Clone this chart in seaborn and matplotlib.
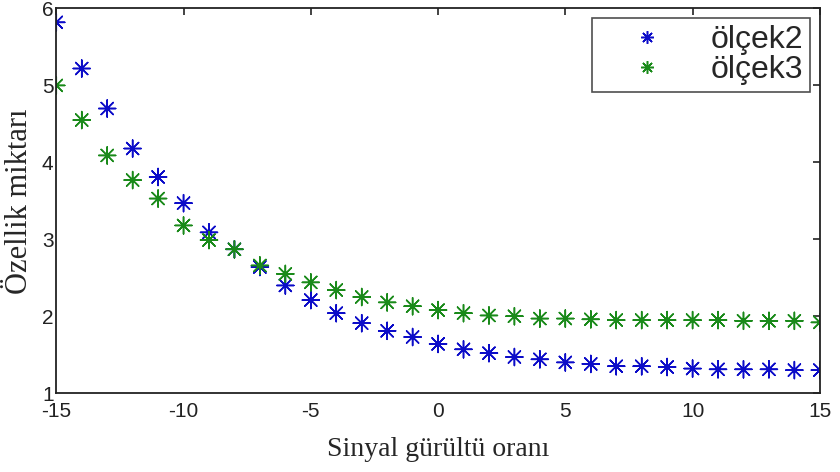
import numpy as np
import pandas as pd
import seaborn as sns
import matplotlib.pyplot as plt

snr = list(range(-15, 16))
olcek2 = [5.82, 5.22, 4.70, 4.18, 3.81, 3.47, 3.09, 2.87, 2.64, 2.40, 2.21,
          2.04, 1.91, 1.81, 1.73, 1.64, 1.57, 1.52, 1.47, 1.44, 1.40, 1.38,
          1.35, 1.35, 1.34, 1.32, 1.31, 1.31, 1.31, 1.30, 1.30]
olcek3 = [5.00, 4.55, 4.09, 3.77, 3.53, 3.18, 2.99, 2.87, 2.66, 2.55, 2.44,
          2.34, 2.25, 2.18, 2.13, 2.08, 2.04, 2.01, 2.00, 1.97, 1.97, 1.96,
          1.95, 1.95, 1.95, 1.95, 1.95, 1.94, 1.94, 1.94, 1.92]
series_names = ['ölçek2', 'ölçek3']
colors = ['#0c0cc8', '#1a8a1a']
xtick_labels = ['-15', '-10', '-5', '0', '5', '10', '15']

df = pd.DataFrame({
    'snr': snr * 2,
    'deger': olcek2 + olcek3,
    'seri': [series_names[0]] * len(snr) + [series_names[1]] * len(snr),
})

sns.set_style('white')
plt.rcParams['font.family'] = ['Liberation Sans', 'DejaVu Sans']

fig = plt.figure(figsize=(8.4, 4.72), dpi=100)
ax = fig.add_axes([0.067, 0.167, 0.909, 0.815])

sns.scatterplot(data=df, x='snr', y='deger', hue='seri', palette=colors,
                marker=(8, 2, 0), s=150, linewidth=1.1, ax=ax)

ax.set_xlim(-15, 15)
ax.set_ylim(1, 6)
ax.set_xticks(range(-15, 16, 5))
ax.set_xticklabels(xtick_labels)
ax.set_yticks(range(1, 7))
ax.tick_params(direction='in', length=5, width=1.2, top=True, right=True,
               labelsize=15, colors='#222222', pad=2)
ax.tick_params(axis='x', pad=6)
for s in ax.spines.values():
    s.set_color('#222222')
    s.set_linewidth(1.3)

ax.set_xlabel('Sinyal gürültü oranı', family='Liberation Serif', fontsize=20,
              labelpad=12)
ax.set_ylabel('Özellik miktarı', family='Liberation Serif', fontsize=22,
              labelpad=6)

leg = ax.legend(loc='upper right', fontsize=23, frameon=True, fancybox=False,
                edgecolor='#222222', borderaxespad=0.3, handletextpad=0.5,
                handlelength=3.0, markerscale=0.75, borderpad=0.22,
                labelspacing=0.0)
leg.get_frame().set_linewidth(1.2)

fig.savefig('out.png', dpi=100)
